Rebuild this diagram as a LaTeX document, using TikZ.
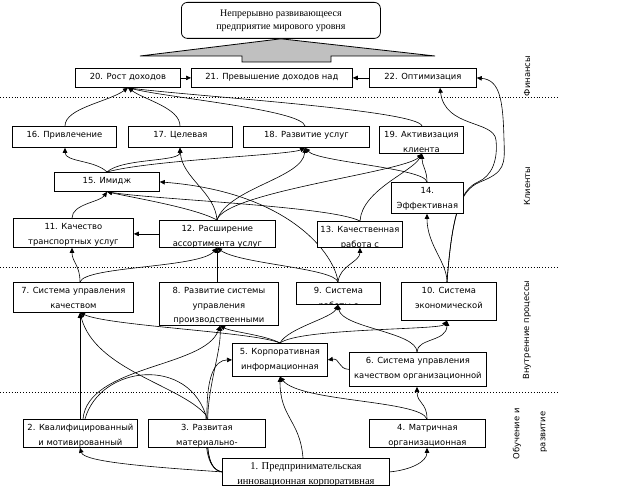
\documentclass[tikz,border=0pt]{standalone}
\usepackage{fontspec}
\setmainfont{Liberation Serif}
\newfontfamily\boxfont{DejaVu Sans}
\usetikzlibrary{arrows.meta}
\pgfdeclarelayer{bg}
\pgfsetlayers{bg,main}
\definecolor{graybg}{RGB}{192,192,192}
\newcommand\bxfont{\boxfont\fontsize{8.4}{10}\selectfont}
\newcommand\serfont{\rmfamily\fontsize{10.5}{12}\selectfont}
\tikzset{
  boxshape/.style={draw, line width=0.8pt, fill=white, inner sep=0pt, anchor=north west},
  conn/.style={line width=0.6pt},
  arr/.style={conn, -{Triangle[length=5pt,width=4.5pt]}},
  zone/.style={dotted, line width=0.9pt},
  sidelbl/.style={rotate=90, font=\bxfont, inner sep=0pt},
}
\newcommand\bx[7][\bxfont]{%
  \node[boxshape, minimum width={(#5-#3)*1pt}, minimum height={(#6-#4)*1pt},
    path picture={\foreach \lineT [count=\idx] in {#7}{%
      \node[font=#1, inner sep=0pt, anchor=base] at ([yshift={-(11.5+14.5*(\idx-1))*1pt}]path picture bounding box.north) {\lineT};}}]
    (#2) at (#3,#4) {};}
\begin{document}
\begin{tikzpicture}[x=1pt,y=-1pt]
\useasboundingbox (0,0) rectangle (624,503);
% goal
\node[draw, line width=0.8pt, rounded corners=6pt, minimum width=199pt, minimum height=36pt, anchor=north west, align=center, inner sep=0pt, font=\rmfamily\fontsize{10}{13}\selectfont, fill=white] (goal) at (181,2) {Непрерывно развивающееся\\предприятие мирового уровня};
\draw[line width=0.8pt, fill=graybg] (140,56) -- (goal.south) -- (435,56) -- (331,56) -- (331,62) -- (242,62) -- (242,56) -- cycle;
% boxes
\bx{b20}{75}{68}{180}{87}{20. Рост доходов}
\bx{b21}{191}{68}{352}{87}{21. Превышение доходов над}
\bx{b22}{369}{68}{476}{87}{22. Оптимизация}
\bx{b16}{12}{126}{116}{147}{16. Привлечение}
\bx{b17}{128}{126}{232}{147}{17. Целевая}
\bx{b18}{243}{126}{369}{147}{18. Развитие услуг}
\bx{b19}{379}{126}{463}{153}{19. Активизация,клиента}
\bx{b15}{54}{172}{159}{191}{15. Имидж}
\bx{b14}{391}{182}{463}{213}{14.,Эффективная}
\bx{b11}{13}{218}{133}{247}{11. Качество,транспортных услуг}
\bx{b12}{159}{220}{275}{247}{12. Расширение,ассортимента услуг}
\bx{b13}{317}{221}{402}{247}{13. Качественная,работа с}
\bx{b7}{13}{282}{133}{312}{7. Система управления,качеством}
\bx{b8}{159}{282}{278}{325}{8. Развитие системы,управления,производственными}
\bx{b9}{296}{282}{380}{304}{9. Система,работы с}
\bx{b10}{401}{282}{496}{320}{10. Система,экономической}
\bx{b5}{232}{343}{327}{376}{5. Корпоративная,информационная}
\bx{b6}{349}{352}{486}{386}{6. Система управления,качеством организационной}
\bx{b2}{23}{419}{137}{447}{2. Квалифицированный,и мотивированный}
\bx{b3}{148}{419}{265}{447}{3. Развитая,материально-}
\bx{b4}{369}{419}{485}{447}{4. Матричная,организационная}
\bx[\serfont]{b1}{222}{458}{389}{485}{1. Предпринимательская,инновационная корпоративная}
% side labels
\node[sidelbl] (lf) at (527,76) {Финансы};
\node[sidelbl] (lc) at (527,186) {Клиенты};
\node[sidelbl] (lp) at (527,330) {Внутренние процессы};
\node[sidelbl] (ll1) at (517,434) {Обучение и};
\node[sidelbl] (ll2) at (544,432) {развитие};
\begin{pgfonlayer}{bg}
\draw[zone] (0,97) -- (558,97);
\draw[zone] (0,267) -- (558,267);
\draw[zone] (0,392) -- (558,392);
% finance
\draw[arr] (b20.east) -- (b21.west);
\draw[arr] (b22.west) -- (b21.east);
\draw[arr] ([xshift=53pt]b16.north west) .. controls (65,108) and (108,102) .. ([xshift=53pt]b20.south west);
\draw[arr] ([xshift=52pt]b17.north west) .. controls (180,108) and (145,100) .. ([xshift=53pt]b20.south west);
\draw[arr] ([xshift=62pt]b18.north west) .. controls (302,110) and (170,98) .. ([xshift=53pt]b20.south west);
\draw[arr] ([xshift=43pt]b19.north west) .. controls (418,110) and (190,96) .. ([xshift=53pt]b20.south west);
% clients
\draw[arr] ([xshift=53pt]b15.north west) .. controls (95,160) and (65,162) .. ([xshift=53pt]b16.south west);
\draw[arr] ([xshift=53pt]b15.north west) .. controls (122,158) and (180,162) .. ([xshift=52pt]b17.south west);
\draw[arr] ([xshift=53pt]b15.north west) .. controls (150,160) and (290,155) .. ([xshift=62pt]b18.south west);
\draw[arr] ([xshift=58pt]b12.north west) .. controls (215,192) and (182,178) .. ([xshift=52pt]b17.south west);
\draw[arr] ([xshift=58pt]b12.north west) .. controls (228,188) and (303,178) .. ([xshift=62pt]b18.south west);
\draw[arr] ([xshift=58pt]b12.north west) .. controls (225,192) and (405,172) .. ([xshift=43pt]b19.south west);
\draw[arr] ([xshift=36pt]b14.north west) .. controls (425,168) and (318,162) .. ([xshift=62pt]b18.south west);
\draw[arr] ([xshift=36pt]b14.north west) .. controls (427,170) and (422,166) .. ([xshift=43pt]b19.south west);
\draw[arr] ([xshift=43pt]b13.north west) .. controls (362,190) and (412,172) .. ([xshift=43pt]b19.south west);
\draw[arr] ([xshift=59pt]b11.north west) .. controls (72,204) and (100,202) .. ([xshift=53pt]b15.south west);
\draw[arr] ([xshift=58pt]b12.north west) .. controls (195,208) and (135,198) .. ([xshift=53pt]b15.south west);
\draw[arr] ([xshift=43pt]b13.north west) .. controls (330,206) and (160,200) .. ([xshift=53pt]b15.south west);
\draw[arr] (b12.west) -- (b12.west -| b11.east);
% internal -> clients / finance
\draw[arr] ([xshift=42pt]b9.north west) .. controls (335,255) and (290,192) .. (b15.east);
\draw[arr] ([xshift=42pt]b9.north west) .. controls (340,265) and (360,262) .. ([xshift=43pt]b13.south west);
\draw[arr] ([xshift=42pt]b9.north west) .. controls (334,268) and (240,264) .. ([xshift=58pt]b12.south west);
\draw[arr] ([xshift=67pt]b7.north west) .. controls (80,265) and (72,262) .. ([xshift=59pt]b11.south west);
\draw[arr] ([xshift=67pt]b7.north west) .. controls (85,266) and (200,268) .. ([xshift=58pt]b12.south west);
\draw[arr] ([xshift=58pt]b8.north west) -- ([xshift=58pt]b12.south west);
\draw[arr] ([xshift=46pt]b10.north west) .. controls (447,262) and (427,245) .. ([xshift=36pt]b14.south west);
\draw[arr] ([xshift=46pt]b10.north west) .. controls (452,215) and (460,190) .. (478,182) .. controls (492,176) and (498,160) .. (496,140) .. controls (494,120) and (445,128) .. ([xshift=71pt]b22.south west);
\draw[arr] ([xshift=46pt]b10.north west) .. controls (452,215) and (460,190) .. (480,182) .. controls (505,172) and (505,165) .. (504,140) .. controls (503,100) and (500,80) .. (b22.east);
% internal
\draw[arr] ([xshift=48pt]b5.north west) .. controls (255,332) and (110,326) .. ([xshift=67pt]b7.south west);
\draw[arr] ([xshift=48pt]b5.north west) .. controls (265,335) and (232,332) .. ([xshift=61pt]b8.south west);
\draw[arr] ([xshift=48pt]b5.north west) .. controls (288,328) and (332,318) .. ([xshift=42pt]b9.south west);
\draw[arr] ([xshift=48pt]b5.north west) .. controls (300,328) and (440,330) .. ([xshift=46pt]b10.south west);
\draw[arr] ([xshift=68pt]b6.north west) .. controls (417,332) and (342,328) .. ([xshift=42pt]b9.south west);
\draw[arr] ([xshift=68pt]b6.north west) .. controls (417,338) and (447,342) .. ([xshift=46pt]b10.south west);
\draw[arr] (b6.west) .. controls (338,369) and (340,358) .. (b5.east);
% learning
\draw[arr] ([xshift=57pt]b2.north west) -- ([xshift=67pt]b7.south west);
\draw[arr] ([xshift=60pt]b2.north west) .. controls (88,365) and (205,368) .. ([xshift=61pt]b8.south west);
\draw[conn] ([xshift=62pt]b2.north west) .. controls (100,365) and (190,355) .. ([xshift=59pt]b3.north west);
\draw[arr] (b1.west) .. controls (205,469) and (207,440) .. (207,412) .. controls (207,378) and (214,360) .. (b5.west);
\draw[arr] (b1.west) .. controls (205,469) and (207,440) .. (208,412) .. controls (210,380) and (221,350) .. ([xshift=61pt]b8.south west);
\draw[arr] (b1.west) .. controls (205,469) and (205,440) .. (206,415) .. controls (180,385) and (95,370) .. ([xshift=67pt]b7.south west);
\draw[arr] (b1.west) .. controls (150,467) and (84,462) .. ([xshift=57pt]b2.south west);
\draw[arr] ([xshift=81pt]b1.north west) .. controls (300,420) and (280,418) .. ([xshift=48pt]b5.south west);
\draw[arr] ([xshift=58pt]b4.north west) .. controls (420,400) and (300,402) .. ([xshift=48pt]b5.south west);
\draw[arr] ([xshift=58pt]b4.north west) .. controls (427,402) and (417,404) .. ([xshift=68pt]b6.south west);
\draw[arr] (b1.east) .. controls (410,470) and (427,462) .. ([xshift=58pt]b4.south west);
\end{pgfonlayer}
\end{tikzpicture}
\end{document}
